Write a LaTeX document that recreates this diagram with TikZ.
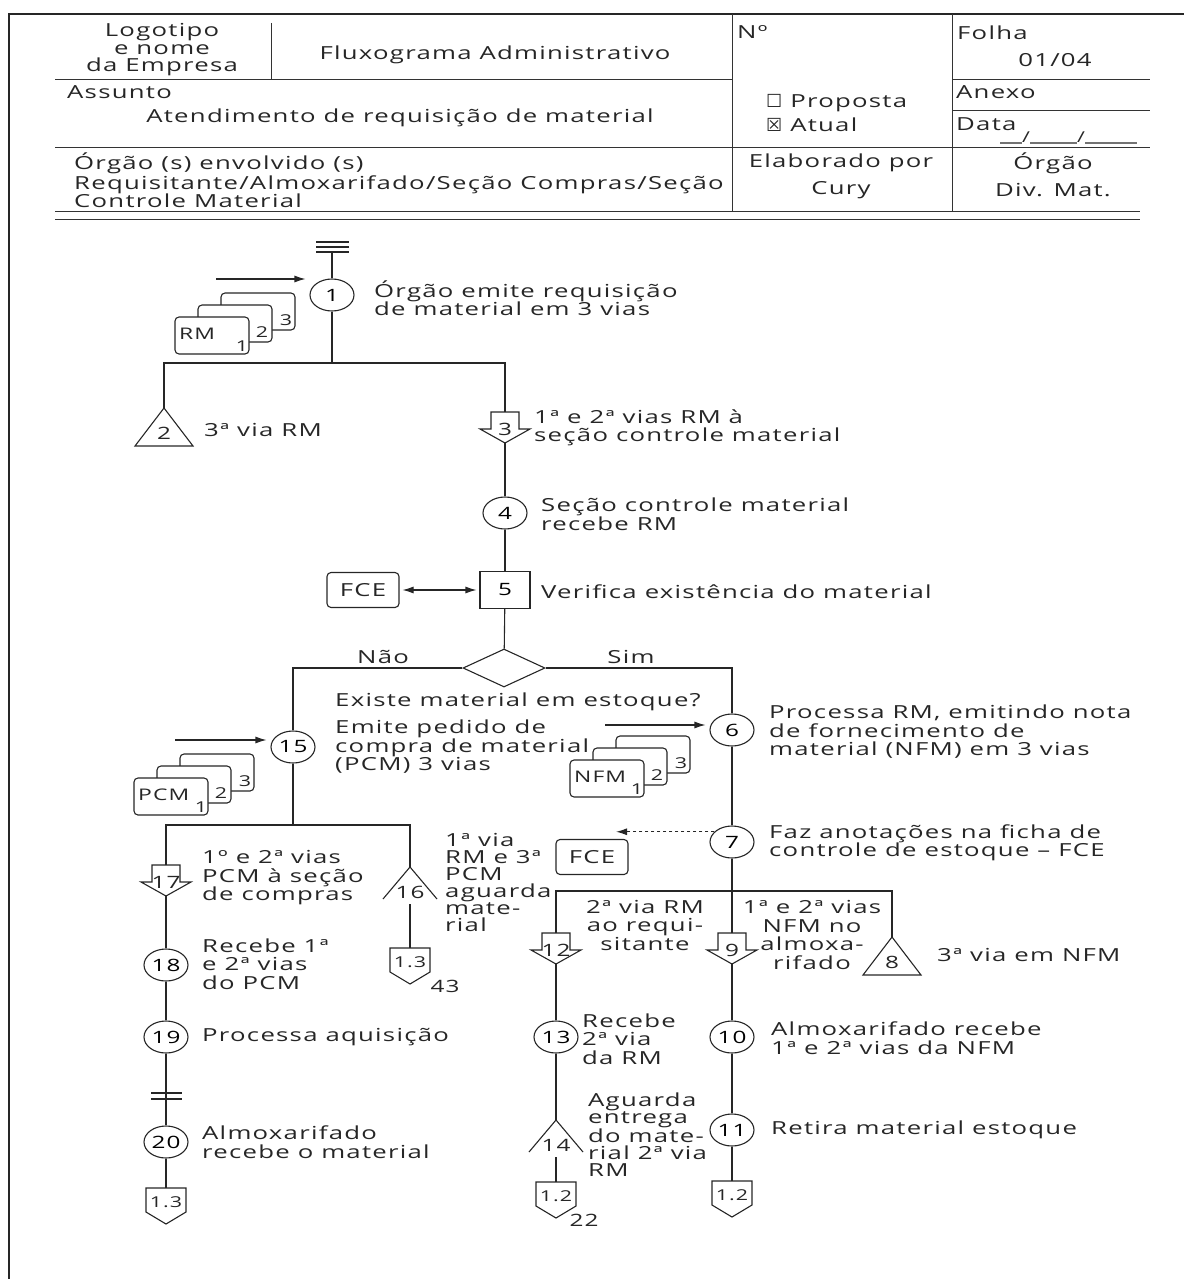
\documentclass[tikz,border=0pt]{standalone}
\usepackage{fontspec}
\setmainfont{Open Sans}[FakeStretch=1.43,LetterSpace=7]
\newfontfamily\simbolos{DejaVu Sans}
\usetikzlibrary{shapes.geometric,arrows.meta}

\tikzset{
  linha/.style={draw=black!85, line width=1.1pt},
  seta/.style={linha, -{Latex[length=11pt,width=7pt]}, shorten >=4pt},
  proc/.style={linha, ellipse, minimum width=44pt, minimum height=32pt, inner sep=0.5pt, font=\fontsize{17}{17}\selectfont},
  quad/.style={linha, rectangle, minimum width=50pt, minimum height=37pt, font=\fontsize{17}{17}\selectfont},
  ficha/.style={linha, rounded corners=4pt, minimum width=72pt, minimum height=35pt, inner sep=2pt},
  decisao/.style={linha, diamond, minimum width=82pt, minimum height=38pt, inner sep=0pt},
  txt/.style={anchor=west, align=left, inner sep=0pt, text=black!85, font=\fontsize{18}{18.5}\selectfont},
  ctxt/.style={txt, anchor=center, align=center},
  apert/.style={txt, font=\fontsize{18}{17}\selectfont},
  num/.style={inner sep=0pt, text=black!85, font=\fontsize{17}{17}\selectfont},
  idx/.style={inner sep=0pt, text=black!85, font=\fontsize{15}{15}\selectfont},
  doctxt/.style={txt, font=\fontsize{16}{16}\selectfont},
  fina/.style={draw=black!80, line width=1pt}
}

% simbolo de transporte (seta larga para baixo)
\newcommand{\transporte}[3]{%
  \begin{scope}[shift={#2}]
    \draw[linha, fill=white] (-14,0) -- (14,0) -- (14,17) -- (25,17) -- (0,31) -- (-25,17) -- (-14,17) -- cycle;
    \node[num] (#1) at (0,17) {#3};
    \coordinate (#1t) at (0,0);
    \coordinate (#1b) at (0,31);
  \end{scope}}
% arquivo definitivo (triangulo fechado)
\newcommand{\arquivo}[3]{%
  \begin{scope}[shift={#2}]
    \draw[linha] (0,0) -- (29,38) -- (-29,38) -- cycle;
    \node[num] (#1) at (0,25) {#3};
    \coordinate (#1t) at (0,0);
  \end{scope}}
% arquivo provisorio (triangulo aberto)
\newcommand{\arqprov}[3]{%
  \begin{scope}[shift={#2}]
    \draw[linha] (-27,32) -- (0,0) -- (27,32);
    \node[num] (#1) at (0,25) {#3};
    \coordinate (#1t) at (0,0);
    \coordinate (#1b) at (0,37);
  \end{scope}}
% conector de pagina
\newcommand{\conector}[3]{%
  \begin{scope}[shift={#2}]
    \draw[linha] (-20,0) -- (20,0) -- (20,24) -- (0,36) -- (-20,24) -- cycle;
    \node[idx] (#1) at (0,14) {#3};
    \coordinate (#1t) at (0,0);
  \end{scope}}
% documento em 3 vias
\newcommand{\pilha}[3]{%
  \begin{scope}[shift={#2}]
    \draw[linha, rounded corners=4pt, fill=white] (46,-24) rectangle ++(74,37);
    \draw[linha, rounded corners=4pt, fill=white] (23,-12) rectangle ++(74,37);
    \draw[linha, rounded corners=4pt, fill=white] (0,0) rectangle (74,37);
    \node[doctxt] (#1) at (4,17) {#3};
    \node[idx] at (67,29) {1};
    \node[idx] at (87,15) {2};
    \node[idx] at (111,3) {3};
  \end{scope}}

\begin{document}
\begin{tikzpicture}[x=1pt, y=-1pt]
  \useasboundingbox (0,0) rectangle (1184,1279);

  % moldura
  \draw[line width=2.5pt, black!85] (8,14) -- (1184,14);
  \draw[line width=2.5pt, black!85] (9,14) -- (9,1279);

  % cabecalho
  \draw[fina] (55,80) -- (732,80);
  \draw[fina] (952,80) -- (1150,80);
  \draw[fina] (952,111) -- (1150,111);
  \draw[fina] (55,147) -- (1150,147);
  \draw[fina] (55,211) -- (1140,211);
  \draw[fina] (55,219) -- (1140,219);
  \draw[fina] (271,23) -- (271,80);
  \draw[fina] (732,14) -- (732,211);
  \draw[fina] (952,14) -- (952,211);

  \node[ctxt, font=\fontsize{18}{17.5}\selectfont] (logo) at (162,50) {Logotipo\\e nome\\da Empresa};
  \node[ctxt] (titulo) at (495,55) {Fluxograma Administrativo};
  \node[txt] (numero) at (737,32) {Nº};
  \node[txt] (folha) at (957,33) {Folha};
  \node[ctxt] (folhanum) at (1055,60) {01/04};
  \node[txt] (assunto) at (67,92) {Assunto};
  \node[ctxt] (assuntotxt) at (400,118) {Atendimento de requisição de material};
  \node[txt] (proposta) at (766,103) {{\simbolos ☐} Proposta};
  \node[txt] (atual) at (766,125) {{\simbolos ☒} Atual};
  \node[txt] (anexo) at (956,92) {Anexo};
  \node[txt] (data) at (956,124) {Data};
  \draw[draw=black!55, line width=2pt] (1000,143) -- (1022,143);
  \draw[draw=black!55, line width=2pt] (1030,143) -- (1077,143);
  \draw[draw=black!55, line width=2pt] (1085,143) -- (1137,143);
  \node[idx] (barra1) at (1026,137) {/};
  \node[idx] (barra2) at (1081,137) {/};
  \node[txt] (orgaos) at (74,163) {Órgão (s) envolvido (s)};
  \node[txt] (orgaos2) at (74,185) {Requisitante/Almoxarifado/Seção Compras/Seção};
  \node[txt] (orgaos3) at (74,201) {Controle Material};
  \node[ctxt] (elab) at (841,163) {Elaborado por};
  \node[ctxt] (cury) at (841,190) {Cury};
  \node[ctxt] (orgao) at (1053,163) {Órgão};
  \node[ctxt] (divmat) at (1053,190) {Div. Mat.};

  % inicio
  \foreach \yy in {242,247,252} \draw[linha, line width=1.6pt] (316,\yy) -- (349,\yy);
  \coordinate (ini) at (332,252);
  \node[proc] (c1) at (332,295) {1};
  \draw[linha] (ini) -- (c1);
  \node[txt] (t1) at (374,298) {Órgão emite requisição\\de material em 3 vias};
  \coordinate (e1) at (216,279);
  \draw[seta] (e1) -- (e1 -| c1.west);
  \pilha{rm}{(175,317)}{RM}

  \coordinate (j1) at (332,363);
  \draw[linha] (c1) -- (j1);
  \arquivo{a2}{(164,408)}{2}
  \transporte{s3}{(505,412)}{3}
  \draw[linha] (a2t) |- (j1) -| (s3t);
  \node[txt] (t2) at (204,430) {3ª via RM};
  \node[txt] (t3) at (534,428) {1ª e 2ª vias RM à\\seção controle material};

  \node[proc] (c4) at (505,513) {4};
  \node[txt] (t4) at (541,514) {Seção controle material\\recebe RM};
  \node[quad] (c5) at (505,590) {5};
  \node[txt] (t5) at (541,592) {Verifica existência do material};
  \node[ficha, txt, anchor=center] (fce1) at (363,590) {FCE};
  \draw[linha] (s3b) -- (c4);
  \draw[linha] (c4) -- (c5);
  \draw[linha, {Latex[length=11pt,width=7pt]}-{Latex[length=11pt,width=7pt]}, shorten <=3pt, shorten >=3pt] (fce1) -- (c5);

  % decisao
  \node[decisao] (dec) at (504,668) {};
  \draw[linha] (c5) -- (dec);
  \node[ctxt] (nao) at (383,657) {Não};
  \node[ctxt] (sim) at (631,657) {Sim};
  \node[txt] (perg) at (335,702) {Existe material em estoque?};

  % ramo Nao
  \node[proc] (c15) at (293,747) {15};
  \draw[linha] (dec.west) -| (c15);
  \node[txt] (t15) at (335,747) {Emite pedido de\\compra de material\\(PCM) 3 vias};
  \coordinate (e15) at (175,740);
  \draw[seta] (e15) -- (e15 -| c15.west);
  \pilha{pcm}{(134,778)}{PCM}

  \coordinate (j15) at (293,825);
  \draw[linha] (c15) -- (j15);
  \transporte{s17}{(166,865)}{17}
  \arqprov{a16}{(410,867)}{16}
  \draw[linha] (s17t) |- (j15) -| (a16t);
  \node[txt] (t17) at (202,878) {1º e 2ª vias\\PCM à seção\\de compras};
  \node[apert] (t16) at (445,882) {1ª via\\RM e 3ª\\PCM\\aguarda\\mate-\\rial};
  \conector{k16}{(410,948)}{1.3}
  \draw[linha] (a16b) -- (k16t);
  \node[num] (n43) at (445,986) {43};

  \node[proc] (c18) at (166,965) {18};
  \draw[linha] (s17b) -- (c18);
  \node[txt] (t18) at (202,964) {Recebe 1ª\\e 2ª vias\\do PCM};
  \node[proc] (c19) at (166,1037) {19};
  \node[txt] (t19) at (202,1037) {Processa aquisição};
  \node[proc] (c20) at (166,1142) {20};
  \node[txt] (t20) at (202,1142) {Almoxarifado\\recebe o material};
  \draw[linha] (c18) -- (c19);
  \draw[linha] (c19) -- (c20);
  \draw[linha] (151,1093) -- (182,1093);
  \draw[linha] (151,1099) -- (182,1099);
  \conector{k20}{(166,1188)}{1.3}
  \draw[linha] (c20) -- (k20t);

  % ramo Sim
  \node[proc] (c6) at (732,730) {6};
  \draw[linha] (dec.east) -| (c6);
  \node[txt] (t6) at (769,732) {Processa RM, emitindo nota\\de fornecimento de\\material (NFM) em 3 vias};
  \coordinate (e6) at (605,725);
  \draw[seta] (e6) -- (e6 -| c6.west);
  \pilha{nfm}{(570,760)}{NFM}

  \node[proc] (c7) at (732,842) {7};
  \draw[linha] (c6) -- (c7);
  \node[txt] (t7) at (769,843) {Faz anotações na ficha de\\controle de estoque – FCE};
  \node[ficha, txt, anchor=center] (fce2) at (592,857) {FCE};
  \coordinate (p7) at (616,834);
  \draw[linha, dashed, -{Latex[length=11pt,width=7pt]}] (c7.150) -- (c7.150 -| p7);

  \coordinate (j7) at (732,891);
  \transporte{s12}{(556,933)}{12}
  \transporte{s9}{(732,933)}{9}
  \arquivo{a8}{(892,937)}{8}
  \draw[linha] (c7) -- (s9t);
  \draw[linha] (s12t) |- (j7) -| (a8t);
  \node[ctxt] (t12) at (645,925) {2ª via RM\\ao requi-\\sitante};
  \node[ctxt] (t9) at (812,935) {1ª e 2ª vias\\NFM no\\almoxa-\\rifado};
  \node[txt] (t8) at (937,955) {3ª via em NFM};

  \node[proc] (c13) at (556,1037) {13};
  \draw[linha] (s12b) -- (c13);
  \node[txt] (t13) at (582,1039) {Recebe\\2ª via\\da RM};
  \arqprov{a14}{(556,1120)}{14}
  \draw[linha] (c13) -- (a14t);
  \node[apert] (t14) at (588,1135) {Aguarda\\entrega\\do mate-\\rial 2ª via\\RM};
  \conector{k14}{(556,1182)}{1.2}
  \draw[linha] (a14b) -- (k14t);
  \node[num] (n22) at (584,1220) {22};

  \node[proc] (c10) at (732,1037) {10};
  \draw[linha] (s9b) -- (c10);
  \node[txt] (t10) at (771,1038) {Almoxarifado recebe\\1ª e 2ª vias da NFM};
  \node[proc] (c11) at (732,1130) {11};
  \draw[linha] (c10) -- (c11);
  \node[txt] (t11) at (771,1130) {Retira material estoque};
  \conector{k11}{(732,1181)}{1.2}
  \draw[linha] (c11) -- (k11t);
\end{tikzpicture}
\end{document}
